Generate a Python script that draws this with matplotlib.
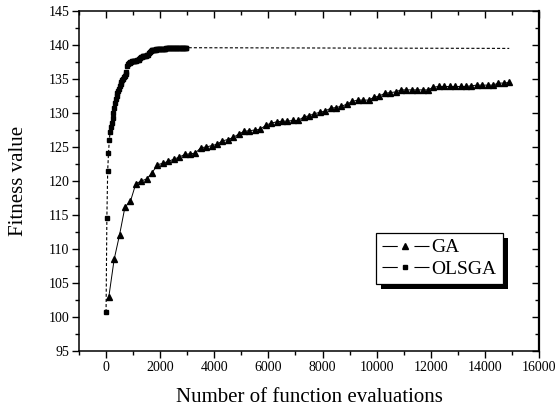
"""
Fitness value vs number of function evaluations, GA against OLSGA.
"""
import numpy as np
import matplotlib
matplotlib.use("Agg")
import matplotlib.pyplot as plt
from matplotlib.lines import Line2D
from matplotlib.patches import Rectangle
from matplotlib.transforms import IdentityTransform

plt.rcParams['font.family'] = ['Liberation Serif', 'DejaVu Serif']
plt.rcParams['lines.scale_dashes'] = False

# GA: one point every 200 evaluations
ga_x = np.arange(100, 15000, 200)
ga_y = [102.9, 108.5, 112.1, 116.2, 117.0, 119.6, 120.0, 120.3, 121.2, 122.4,
        122.6, 122.9, 123.2, 123.5, 123.9, 124.0, 124.1, 124.9, 125.0, 125.2,
        125.4, 125.9, 126.1, 126.4, 126.9, 127.3, 127.4, 127.5, 127.6, 128.2,
        128.5, 128.7, 128.8, 128.8, 128.9, 128.9, 129.4, 129.6, 129.9, 130.1,
        130.3, 130.7, 130.8, 131.0, 131.3, 131.7, 131.9, 131.9, 131.9, 132.3,
        132.5, 132.9, 133.0, 133.1, 133.4, 133.4, 133.4, 133.4, 133.4, 133.4,
        133.8, 133.9, 133.9, 133.9, 133.9, 133.9, 133.9, 134.0, 134.1, 134.1,
        134.1, 134.1, 134.4, 134.4, 134.5]

# OLSGA: one point every 30 evaluations up to ~3000, then the final value
ols_x = np.arange(0, 3000, 30)
ols_y = [100.7, 114.6, 121.5, 124.1, 126.0, 127.2, 128.0, 128.6, 129.3, 130.0,
         130.8, 131.4, 132.0, 132.5, 132.9, 133.3, 133.6, 133.9, 134.2, 134.5,
         134.8, 135.0, 135.3, 135.5, 135.7, 136.0, 136.9, 137.2, 137.3, 137.4,
         137.5, 137.5, 137.6, 137.6, 137.7, 137.7, 137.7, 137.7, 137.8, 137.8,
         137.8, 137.9, 138.1, 138.2, 138.3, 138.4, 138.4, 138.4, 138.4, 138.4,
         138.5, 138.5, 138.6, 138.8, 139.0, 139.1, 139.2, 139.2, 139.3, 139.3,
         139.3, 139.3, 139.4, 139.4, 139.4, 139.4, 139.4, 139.4, 139.4, 139.4,
         139.4, 139.4, 139.4, 139.4, 139.5, 139.5, 139.5, 139.5, 139.5, 139.5,
         139.5, 139.5, 139.5, 139.5, 139.5, 139.5, 139.5, 139.5, 139.5, 139.5,
         139.5, 139.6, 139.6, 139.6, 139.6, 139.6, 139.6, 139.6, 139.6, 139.6]
ols_end_x = 14900
ols_end_y = 139.5

LABELS = ['GA', 'OLSGA']

fig = plt.figure(figsize=(5.56, 4.09), dpi=100)
ax = fig.add_axes([79 / 556, 1 - 351 / 409, 460 / 556, 340 / 409])

ax.plot(ga_x, ga_y, color='black', linewidth=0.7, marker='^',
        markersize=4.5)
ax.plot(list(ols_x) + [ols_end_x], ols_y + [ols_end_y], color='black',
        linewidth=0.8, linestyle=(0, (2.2, 1.5)), marker='s', markersize=3.5,
        markevery=list(range(len(ols_x))))

ax.set_xlim(-1000, 16000)
ax.set_ylim(95, 145)
ax.set_xticks(np.arange(0, 16001, 2000))
ax.set_yticks(np.arange(95, 146, 5))
ax.set_xticks(np.arange(-1000, 16001, 1000), minor=True)
ax.set_yticks(np.arange(95, 145.1, 2.5), minor=True)

for s in ax.spines.values():
    s.set_linewidth(1.1)
ax.spines['right'].set_linewidth(1.6)

ax.tick_params(which='major', direction='out', length=5, width=1,
               labelsize=10, pad=2)
ax.tick_params(which='minor', direction='out', length=3, width=1)

# mirrored ticks pointing inwards on the top and right
top = ax.secondary_xaxis('top')
top.set_xticks(np.arange(0, 16001, 2000))
top.set_xticks(np.arange(-1000, 16001, 1000), minor=True)
top.tick_params(which='major', direction='in', length=5, width=1,
                labeltop=False)
top.tick_params(which='minor', direction='in', length=3, width=1)
top.spines['top'].set_visible(False)

right = ax.secondary_yaxis('right')
right.set_yticks(np.arange(95, 146, 5))
right.set_yticks(np.arange(95, 145.1, 2.5), minor=True)
right.tick_params(which='major', direction='in', length=5, width=1,
                  labelright=False)
right.tick_params(which='minor', direction='in', length=3, width=1)
right.spines['right'].set_visible(False)

ax.set_xlabel('Number of function evaluations', fontsize=15, labelpad=10)
ax.set_ylabel('Fitness value', fontsize=15, labelpad=15)

# legend handles: short line, gap, marker, gap, short line
handle_style = (0, (11, 12, 11, 40))
handles = [Line2D([], [], color='black', linewidth=0.8,
                  linestyle=handle_style, marker='^', markersize=4.5),
           Line2D([], [], color='black', linewidth=0.8,
                  linestyle=handle_style, marker='s', markersize=3.5)]
leg = ax.legend(handles, LABELS, loc='upper left',
                bbox_to_anchor=(0.646, 0.347), borderaxespad=0, fontsize=14,
                fancybox=False, edgecolor='black', framealpha=1,
                handlelength=2.4, handletextpad=0.15, borderpad=0.3,
                labelspacing=0.2)
leg.get_frame().set_linewidth(0.9)
leg.set_zorder(6)

# solid black drop shadow, offset down-right
fig.canvas.draw()
bb = leg.get_window_extent()
shadow = Rectangle((bb.x0 + 5, bb.y0 - 5), bb.width, bb.height,
                   transform=IdentityTransform(), facecolor='black',
                   edgecolor='none', zorder=5, clip_on=False)
ax.add_artist(shadow)

fig.savefig('out.png', dpi=100)
